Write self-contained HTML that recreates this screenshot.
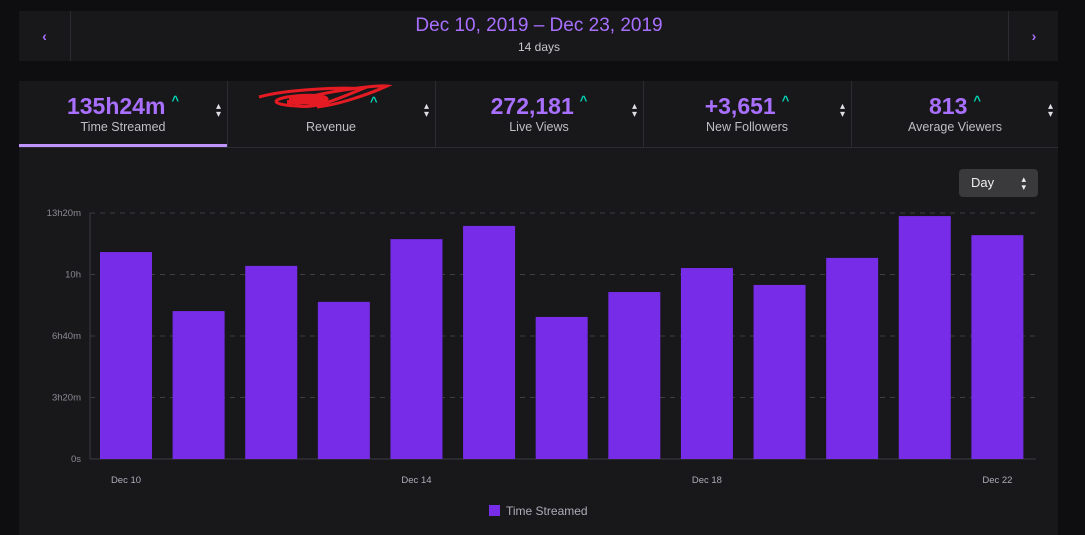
<!DOCTYPE html>
<html><head><meta charset="utf-8"><style>
body{margin:0;width:1085px;height:535px;background:#0e0e10;font-family:"Liberation Sans",sans-serif;overflow:hidden;position:relative}
.p{position:absolute;background:#18181b}
.t{position:absolute;text-align:center}
.tab{position:absolute;top:81px;height:66px;width:208px;border-right:1px solid #2c2c30}
.v{position:absolute;top:12px;width:100%;text-align:center;color:#a970ff;font-size:23px;font-weight:bold}
.v span{color:#00d6b4;font-size:13px;vertical-align:top;margin-left:6px}
.l{position:absolute;top:39px;width:100%;text-align:center;color:#bfbfc4;font-size:12.5px}
.ar{position:absolute;right:6px;top:22px;color:#dedee3;font-size:10px;line-height:8px}
</style></head><body>
<div class="p" style="left:19px;top:11px;width:1039px;height:50px"></div>
<div class="t" style="left:19px;top:11px;width:51px;height:50px;line-height:50px;color:#a970ff;font-size:14px;border-right:1px solid #2c2c30;font-weight:bold">‹</div>
<div class="t" style="left:1008px;top:11px;width:50px;height:50px;line-height:50px;color:#a970ff;font-size:14px;border-left:1px solid #2c2c30;font-weight:bold">›</div>
<div class="t" style="left:70px;width:938px;top:15px;color:#a970ff;font-size:19px">Dec 10, 2019 – Dec 23, 2019</div>
<div class="t" style="left:70px;width:938px;top:40px;color:#c8c8cc;font-size:12px">14 days</div>
<div class="p" style="left:19px;top:81px;width:1039px;height:454px"></div>
<div style="position:absolute;left:19px;top:147px;width:1039px;height:1px;background:#2c2c30"></div>
<div class="tab" style="left:19px"><div class="v">135h24m<span>^</span></div><div class="l">Time Streamed</div><div class="ar">▴<br>▾</div><div style="position:absolute;left:0;bottom:0;width:208px;height:3px;background:#bf94ff"></div></div>
<div class="tab" style="left:227px"><div class="l">Revenue</div><div class="ar">▴<br>▾</div>
<svg width="208" height="40" style="position:absolute;left:0;top:0">
<path d="M32 16 C60 8 120 6 135 8 C110 18 90 28 70 25 C50 24 40 20 60 16 C90 12 110 16 95 22 C80 28 60 26 75 18 C100 10 150 4 160 5 C140 14 110 24 90 26" stroke="#e51b23" stroke-width="3" fill="none"/>
<path d="M62 18 L100 18 M60 21 L98 22" stroke="#e51b23" stroke-width="4"/>
<text x="143" y="25" fill="#00d6b4" font-size="13" font-weight="bold">^</text></svg></div>
<div class="tab" style="left:435px"><div class="v">272,181<span>^</span></div><div class="l">Live Views</div><div class="ar">▴<br>▾</div></div>
<div class="tab" style="left:643px"><div class="v">+3,651<span>^</span></div><div class="l">New Followers</div><div class="ar">▴<br>▾</div></div>
<div class="tab" style="left:851px;border-right:none"><div class="v">813<span>^</span></div><div class="l">Average Viewers</div><div class="ar">▴<br>▾</div></div>
<div style="position:absolute;left:959px;top:169px;width:79px;height:28px;background:#3a3a3d;border-radius:4px;color:#efeff1;font-size:13px;line-height:28px"><span style="margin-left:12px">Day</span><span style="position:absolute;right:12px;top:0;font-size:9px;line-height:8px;padding-top:6px">▴<br>▾</span></div>
<svg id="c" width="1085" height="535" style="position:absolute;left:0;top:0"></svg>
<div style="position:absolute;left:489px;top:504px;color:#adadb8;font-size:12px"><span style="display:inline-block;width:11px;height:11px;background:#772ce8;vertical-align:-1px;margin-right:6px"></span>Time Streamed</div>
<script>
const categories=["Dec 10","Dec 11","Dec 12","Dec 13","Dec 14","Dec 15","Dec 16","Dec 17","Dec 18","Dec 19","Dec 20","Dec 21","Dec 22"];
const minutesStreamed=[673,481,628,511,715,758,462,543,621,566,654,790,728];
const tickValues=[0,200,400,600,800];
const tickLabels=["0s","3h20m","6h40m","10h","13h20m"];
const xLabelIdx=[0,4,8,12];
const svg=document.getElementById('c');const NS='http://www.w3.org/2000/svg';
const x0=90,x1=1036,yb=459,yt=213,maxV=800;
const y=v=>yb-(v/maxV)*(yb-yt);
const step=(x1-x0-2)/categories.length;
const xb=i=>x0+10+i*step;
function mk(t,a){const e=document.createElementNS(NS,t);for(const k in a)e.setAttribute(k,a[k]);svg.appendChild(e);return e;}
tickValues.forEach((v,i)=>{
 const g=mk('line',{x1:x0,x2:x1,y1:y(v),y2:y(v),stroke:'#3d3d42','stroke-dasharray':i?'5,5':'',});
 
 
 const t=mk('text',{x:x0-9,y:y(v)+3,'text-anchor':'end',fill:'#8a8a93','font-size':'9.5'});t.textContent=tickLabels[i];
 
 
});
mk('line',{x1:x0,x2:x0,y1:yt,y2:yb,stroke:'#3d3d42'});
minutesStreamed.forEach((v,i)=>{
 const r=mk('rect',{x:xb(i),y:y(v),width:52,height:yb-y(v),fill:'#772ce8'});
 
 
});
xLabelIdx.forEach(i=>{
 const t=mk('text',{x:xb(i)+26,y:483,'text-anchor':'middle',fill:'#adadb8','font-size':'9.5'});t.textContent=categories[i];
 
 
});
</script>
</body></html>
